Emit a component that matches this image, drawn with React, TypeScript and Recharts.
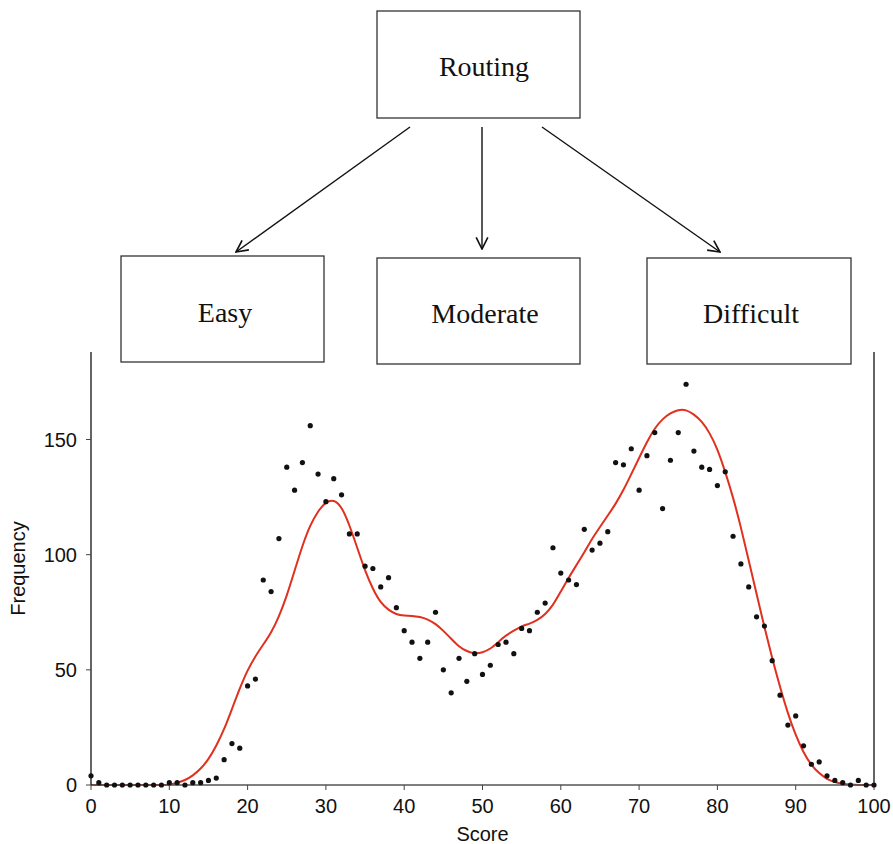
import {
  ComposedChart,
  Line,
  Scatter,
  XAxis,
  YAxis,
  ReferenceLine,
} from "recharts";

// Observed frequency for each score 0..100
const scores = Array.from({ length: 101 }, (_, i) => i);
const observed = [
  4, 1, 0, 0, 0, 0, 0, 0, 0, 0,
  1, 1, 0, 1, 1, 2, 3, 11, 18, 16,
  43, 46, 89, 84, 107, 138, 128, 140, 156, 135,
  123, 133, 126, 109, 109, 95, 94, 86, 90, 77,
  67, 62, 55, 62, 75, 50, 40, 55, 45, 57,
  48, 52, 61, 62, 57, 68, 67, 75, 79, 103,
  92, 89, 87, 111, 102, 105, 110, 140, 139, 146,
  128, 143, 153, 120, 141, 153, 174, 145, 138, 137,
  130, 136, 108, 96, 86, 73, 69, 54, 39, 26,
  30, 17, 9, 10, 4, 2, 1, 0, 2, 0, 0,
];
// Smoothed mixture fit at the same scores
const fitted = [
  0, 0, 0, 0, 0, 0, 0, 0, 0, 0,
  0, 1, 2, 4, 7, 11, 17, 24, 33, 42,
  50, 56, 61, 66, 73, 82, 93, 104, 113, 119,
  123, 124, 121, 113, 103, 93, 85, 79, 76, 74,
  73.5, 73.5, 73, 72, 70, 67, 63.5, 60, 58, 57,
  57.5, 59, 62, 65, 67, 69, 70, 71.5, 74, 78,
  84, 90, 95.5, 101, 107, 112, 117, 122, 128, 135,
  142, 149, 155, 159, 161.5, 163, 163, 161, 158, 153,
  146, 136, 125, 112, 97.5, 83, 68.5, 55, 42.5, 31,
  21.5, 14, 8.5, 5, 2.5, 1.2, 0.5, 0.2, 0, 0, 0,
];
const xTicks = [0, 10, 20, 30, 40, 50, 60, 70, 80, 90, 100];
const yTicks = [0, 50, 100, 150];

// Routing design boxes drawn above the plot
const routingBox = { label: "Routing", x: 377, y: 11, w: 203, h: 107, tx: 484, ty: 76 };
const stageBoxes = [
  { label: "Easy", x: 121, y: 256, w: 203, h: 106, tx: 225, ty: 322 },
  { label: "Moderate", x: 377, y: 258, w: 203, h: 106, tx: 485, ty: 323 },
  { label: "Difficult", x: 647, y: 258, w: 204, h: 106, tx: 751, ty: 323 },
];
const arrows = [
  { x1: 410, y1: 127, x2: 236, y2: 252 },
  { x1: 482, y1: 127, x2: 482, y2: 249 },
  { x1: 542, y1: 127, x2: 720, y2: 252 },
];

const dotData = scores.map((s, i) => ({ score: s, freq: observed[i] }));
const fitData = scores.map((s, i) => ({ score: s, fit: fitted[i] }));

const sans = "Liberation Sans, Arial, sans-serif";
const tickStyle = { fill: "#111", fontSize: 20, fontFamily: sans };

const Dot = (props: { cx?: number; cy?: number }) => (
  <circle cx={props.cx} cy={props.cy} r={2.6} fill="#111" />
);

function Diagram() {
  const serif = "Liberation Serif, Times New Roman, serif";
  return (
    <svg width={893} height={844} style={{ position: "absolute", left: 0, top: 0, pointerEvents: "none" }}>
      <defs>
        <marker
          id="head"
          viewBox="0 0 12 12"
          refX="11"
          refY="6"
          markerWidth="14"
          markerHeight="14"
          markerUnits="userSpaceOnUse"
          orient="auto"
        >
          <path d="M1,1 L11,6 L1,11" fill="none" stroke="#111" strokeWidth="1.4" />
        </marker>
      </defs>
      {[routingBox, ...stageBoxes].map((b) => (
        <g key={b.label}>
          <rect x={b.x} y={b.y} width={b.w} height={b.h} fill="#fff" stroke="#333" strokeWidth={1.3} />
          <text x={b.tx} y={b.ty} textAnchor="middle" fontSize={28} fontFamily={serif} fill="#111">
            {b.label}
          </text>
        </g>
      ))}
      {arrows.map((a, i) => (
        <line key={i} x1={a.x1} y1={a.y1} x2={a.x2} y2={a.y2} stroke="#111" strokeWidth={1.4} markerEnd="url(#head)" />
      ))}
    </svg>
  );
}

export default function App() {
  return (
    <div style={{ position: "absolute", left: 0, top: 0, width: 893, height: 844, background: "#fff" }}>
      <ComposedChart width={893} height={844} margin={{ top: 352, right: 19, left: 0, bottom: 0 }}>
        <XAxis
          type="number"
          dataKey="score"
          domain={[0, 100]}
          ticks={xTicks}
          tick={tickStyle}
          tickSize={5}
          tickMargin={9}
          height={59}
          axisLine={{ stroke: "#555", strokeWidth: 1.5 }}
          tickLine={{ stroke: "#444" }}
          label={{ value: "Score", position: "insideBottom", offset: 3, fill: "#111", fontSize: 20, fontFamily: sans }}
        />
        <YAxis
          type="number"
          domain={[0, 188]}
          ticks={yTicks}
          tick={tickStyle}
          tickSize={5}
          tickMargin={9}
          width={91}
          axisLine={{ stroke: "#111", strokeWidth: 1.3 }}
          tickLine={{ stroke: "#444" }}
          label={{
            value: "Frequency",
            angle: -90,
            position: "insideLeft",
            offset: 18,
            fill: "#111",
            fontSize: 20,
            fontFamily: sans,
            style: { textAnchor: "middle" },
          }}
        />
        <ReferenceLine x={100} stroke="#111" strokeWidth={1.3} />
        <Line
          data={fitData}
          dataKey="fit"
          type="basis"
          stroke="#e0301e"
          strokeWidth={2}
          dot={false}
          isAnimationActive={false}
        />
        <Scatter data={dotData} dataKey="freq" shape={<Dot />} isAnimationActive={false} />
      </ComposedChart>
      <Diagram />
    </div>
  );
}
